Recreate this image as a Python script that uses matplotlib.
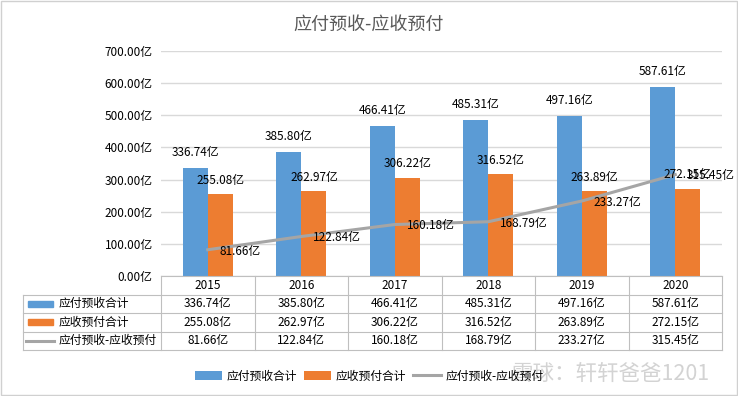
import numpy as np
import matplotlib.pyplot as plt
from matplotlib.patches import Rectangle
from matplotlib.lines import Line2D

plt.rcParams['font.family'] = ['Noto Sans CJK SC', 'DejaVu Sans']

#region Data
years = ['2015', '2016', '2017', '2018', '2019', '2020']
payable = [336.74, 385.80, 466.41, 485.31, 497.16, 587.61]    # 应付预收合计
receivable = [255.08, 262.97, 306.22, 316.52, 263.89, 272.15]  # 应收预付合计
diff = [81.66, 122.84, 160.18, 168.79, 233.27, 315.45]         # 应付预收-应收预付
names = ['应付预收合计', '应收预付合计', '应付预收-应收预付']
#endregion

blue, orange, grey = '#5B9BD5', '#ED7D31', '#A5A5A5'
fmt = lambda v: '%.2f亿' % v

fig = plt.figure(figsize=(7.38, 3.96), dpi=100)
fig.patches.append(Rectangle((0.001, 0.002), 0.997, 0.995, transform=fig.transFigure,
                             fill=False, edgecolor='#D0D0D0', lw=1))

ax = fig.add_axes([161/738, 120/396, 561/738, 225/396])
x = np.arange(len(years))
w = 0.27
b1 = ax.bar(x - w/2, payable, w, color=blue, label=names[0], zorder=2)
b2 = ax.bar(x + w/2, receivable, w, color=orange, label=names[1], zorder=2)
ln, = ax.plot(x, diff, color=grey, lw=2.2, label=names[2], zorder=3)

for xi, v in zip(x - w/2, payable):
    ax.annotate(fmt(v), (xi, v), xytext=(0, 11), textcoords='offset points',
                ha='center', va='center', fontsize=8.5, zorder=4)
for xi, v in zip(x + w/2, receivable):
    ax.annotate(fmt(v), (xi, v), xytext=(0, 10), textcoords='offset points',
                ha='center', va='center', fontsize=8.5, zorder=4)
for xi, v in zip(x, diff):
    ax.annotate(fmt(v), (xi, v), xytext=(8.5, -1), textcoords='offset points',
                ha='left', va='center', fontsize=8.5, zorder=4)

ax.set_xlim(-0.5, len(years) - 0.5)
ax.set_ylim(0, 700)
ax.set_yticks(np.arange(0, 701, 100))
ax.set_yticklabels([fmt(t) for t in np.arange(0, 701, 100)], fontsize=8.5)
ax.tick_params(axis='y', length=0, pad=6)
ax.set_xticks([])
ax.grid(axis='y', color='#D9D9D9', lw=1, zorder=0)
for s in ax.spines.values():
    s.set_visible(False)

fig.text(0.5, 1 - 25/396, '应付预收-应收预付', ha='center', va='center',
         fontsize=13, color='#595959')

#region Data table under the plot
tab = fig.add_axes([161/738, 46/396, 561/738, 74/396])
tab.set_xlim(-0.5, len(years) - 0.5)
tab.set_ylim(4, 0)
tab.axis('off')
left = -0.5 - 138/93.5
lc = '#BFBFBF'
kw = dict(color=lc, lw=0.8, clip_on=False)
tab.plot([-0.5, 5.5], [0, 0], **kw)
for r in range(1, 5):
    tab.plot([left, 5.5], [r, r], **kw)
for c in range(len(years) + 1):
    tab.plot([c - 0.5, c - 0.5], [0, 4], **kw)
tab.plot([left, left], [1, 4], **kw)

for c, yr in enumerate(years):
    tab.text(c, 0.5, yr, ha='center', va='center', fontsize=8.5)
rows = [payable, receivable, diff]
for r, vals in enumerate(rows):
    for c, v in enumerate(vals):
        tab.text(c, r + 1.5, fmt(v), ha='center', va='center', fontsize=8.5)

sw = 25/93.5
for r, col in enumerate([blue, orange]):
    tab.add_patch(Rectangle((left + 5/93.5, r + 1.35), sw, 0.3, color=col, clip_on=False))
tab.plot([left + 3/93.5, left + 31/93.5], [3.5, 3.5], color=grey, lw=2.2, clip_on=False)
for r, nm in enumerate(names):
    tab.text(left + 36/93.5, r + 1.5, nm, ha='left', va='center', fontsize=8.5)
#endregion

fig.legend(handles=[b1, b2, ln], loc='center', bbox_to_anchor=(0.5, 1 - 376/396),
           ncol=3, frameon=False, fontsize=8.5, handlelength=2.3, columnspacing=0.6,
           handletextpad=0.4)

fig.text(610/738, 1 - 374/396, '雪球：轩轩爸爸1201', ha='center', va='center',
         fontsize=15.5, color='#C8C8C8', alpha=0.8)

fig.savefig('out.png', dpi=100)
